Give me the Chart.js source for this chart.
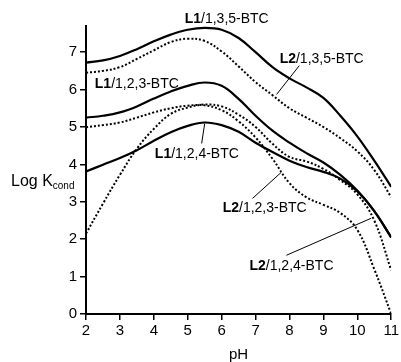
<!DOCTYPE html>
<html>
<head>
<meta charset="utf-8">
<script src="https://cdn.jsdelivr.net/npm/chart.js@4.4.1/dist/chart.umd.min.js"></script>
<style>
  html, body { margin: 0; padding: 0; background: #fff; }
  canvas { display: block; }
</style>
</head>
<body>
<canvas id="kcondChart" width="401" height="362"></canvas>
<script>
// pH grid and log Kcond
const ph = [2, 2.5, 3, 3.5, 4, 4.5, 5, 5.5, 6, 6.5, 7, 7.5, 8, 8.5, 9, 9.5, 10, 10.5, 11];

const l1_135 = [6.72, 6.78, 6.9, 7.08, 7.29, 7.47, 7.6, 7.65, 7.6, 7.38, 7.0, 6.6, 6.3, 6.06, 5.78, 5.3, 4.75, 4.1, 3.4];
const l2_135 = [6.45, 6.5, 6.6, 6.82, 7.05, 7.27, 7.36, 7.3, 7.02, 6.62, 6.2, 5.85, 5.5, 5.25, 5.0, 4.7, 4.35, 3.85, 3.12];
const l1_123 = [5.25, 5.3, 5.39, 5.55, 5.76, 5.95, 6.1, 6.19, 6.1, 5.75, 5.3, 4.9, 4.58, 4.3, 4.05, 3.72, 3.3, 2.75, 2.05];
const l1_124 = [3.81, 3.99, 4.17, 4.38, 4.63, 4.86, 5.03, 5.12, 5.05, 4.87, 4.58, 4.33, 4.1, 3.93, 3.8, 3.62, 3.28, 2.75, 2.05];
const l2_123 = [4.99, 5.05, 5.12, 5.25, 5.39, 5.5, 5.57, 5.58, 5.45, 5.15, 4.72, 4.15, 3.5, 3.12, 2.92, 2.7, 2.25, 1.2, 0];
const l2_124 = [2.15, 2.95, 3.72, 4.42, 4.95, 5.35, 5.52, 5.6, 5.55, 5.33, 5.0, 4.55, 4.2, 4.08, 3.88, 3.58, 3.2, 2.5, 1.17];

const xTicks = [2, 3, 4, 5, 6, 7, 8, 9, 10, 11];
const yTicks = [0, 1, 2, 3, 4, 5, 6, 7];

// curve labels: [bold part, rest, pH, logK of baseline-left]
const curveLabels = [
    ["L1", "/1,3,5-BTC", 4.91, 7.79],
    ["L2", "/1,3,5-BTC", 7.71, 6.72],
    ["L1", "/1,2,3-BTC", 2.26, 6.05],
    ["L1", "/1,2,4-BTC", 4.03, 4.16],
    ["L2", "/1,2,3-BTC", 6.03, 2.72],
    ["L2", "/1,2,4-BTC", 6.82, 1.17],
];

// leader lines: [pH1, logK1, pH2, logK2]
const leaders = [
    [8.29, 6.64, 7.62, 5.87],
    [5.41, 4.56, 5.5, 5.09],
    [6.91, 3.09, 7.76, 3.79],
    [7.91, 1.57, 10.41, 2.56],
];

const pts = (vals) => ph.map((p, i) => ({ x: p, y: vals[i] }));

const solid = (label, vals) => ({
    label,
    data: pts(vals),
    borderColor: "#000",
    borderWidth: 2.2,
    pointRadius: 0,
    tension: 0.4,
    fill: false,
});
const dotted = (label, vals) => ({
    ...solid(label, vals),
    borderWidth: 2,
    borderDash: [2, 2],
});

const FONT = '"Liberation Sans", Arial, sans-serif';

const labelPlugin = {
    id: "curveLabels",
    afterDraw(chart) {
        const { ctx, scales } = chart;
        const x = scales.x, y = scales.y;
        ctx.save();
        ctx.strokeStyle = "#000";
        ctx.lineWidth = 1;
        leaders.forEach(([x1, y1, x2, y2]) => {
            ctx.beginPath();
            ctx.moveTo(x.getPixelForValue(x1), y.getPixelForValue(y1));
            ctx.lineTo(x.getPixelForValue(x2), y.getPixelForValue(y2));
            ctx.stroke();
        });

        ctx.fillStyle = "#000";
        ctx.textBaseline = "alphabetic";
        ctx.textAlign = "left";
        curveLabels.forEach(([bold, rest, p, k]) => {
            let px = x.getPixelForValue(p);
            const py = y.getPixelForValue(k);
            ctx.font = "bold 14px " + FONT;
            ctx.fillText(bold, px, py);
            px += ctx.measureText(bold).width;
            ctx.font = "14px " + FONT;
            ctx.fillText(rest, px, py);
        });

        // axis titles
        ctx.font = "16px " + FONT;
        ctx.fillText("Log K", 11, 186);
        const w = ctx.measureText("Log K").width;
        ctx.font = "10px " + FONT;
        ctx.fillText("cond", 11 + w, 189);

        ctx.font = "15px " + FONT;
        ctx.textAlign = "center";
        ctx.fillText("pH", (chart.chartArea.left + chart.chartArea.right) / 2, 359);
        ctx.restore();
    },
};

new Chart(document.getElementById("kcondChart"), {
    type: "line",
    data: {
        datasets: [
            solid("L1/1,3,5-BTC", l1_135),
            dotted("L2/1,3,5-BTC", l2_135),
            solid("L1/1,2,3-BTC", l1_123),
            solid("L1/1,2,4-BTC", l1_124),
            dotted("L2/1,2,3-BTC", l2_123),
            dotted("L2/1,2,4-BTC", l2_124),
        ],
    },
    options: {
        responsive: false,
        animation: false,
        devicePixelRatio: 1,
        layout: { padding: { top: 26, right: 9, left: 0, bottom: 0 } },
        plugins: { legend: { display: false }, tooltip: { enabled: false } },
        scales: {
            x: {
                type: "linear",
                min: 2,
                max: 11,
                afterBuildTicks: (s) => { s.ticks = xTicks.map((v) => ({ value: v })); },
                afterFit: (s) => { s.height = 48; },
                ticks: { color: "#000", font: { family: FONT, size: 15 }, padding: 2, maxRotation: 0 },
                grid: { drawOnChartArea: false, drawTicks: true, tickLength: 6, color: "#000", lineWidth: 1.5 },
                border: { color: "#000", width: 2 },
            },
            y: {
                min: 0,
                max: 7.7,
                afterBuildTicks: (s) => { s.ticks = yTicks.map((v) => ({ value: v })); },
                afterFit: (s) => { s.width = 86; },
                ticks: { color: "#000", font: { family: FONT, size: 15 }, padding: 3 },
                grid: { drawOnChartArea: false, drawTicks: true, tickLength: 6, color: "#000", lineWidth: 1.5 },
                border: { color: "#000", width: 2 },
            },
        },
    },
    plugins: [labelPlugin],
});
</script>
</body>
</html>
